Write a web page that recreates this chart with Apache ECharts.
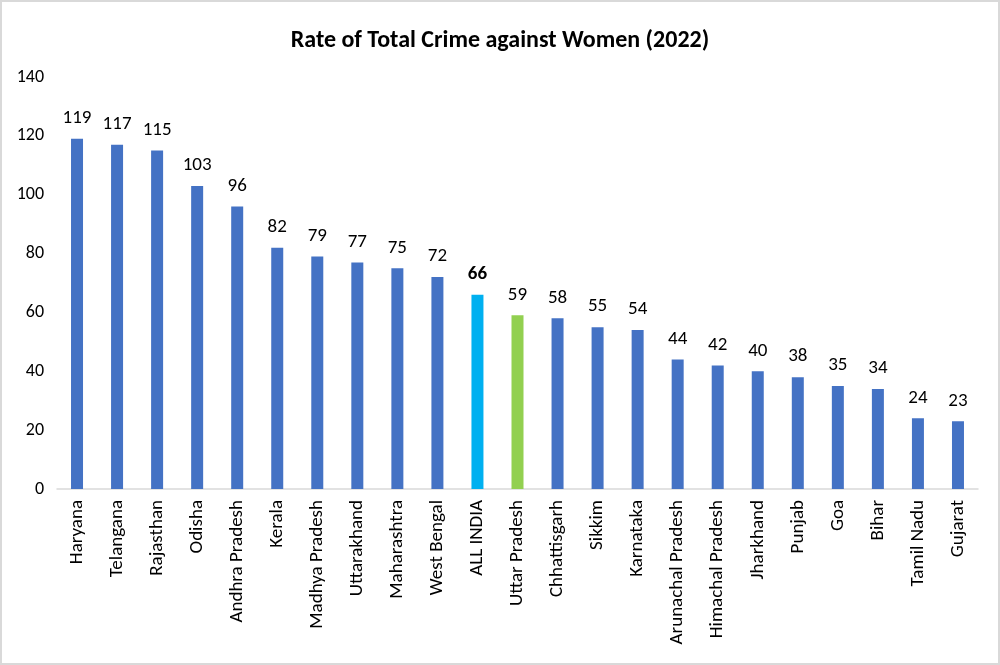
<!DOCTYPE html>
<html>
<head>
<meta charset="utf-8">
<script src="https://cdn.jsdelivr.net/npm/echarts@6/dist/echarts.min.js"></script>
<style>
html,body{margin:0;padding:0;background:#fff;}
#wrap{position:absolute;left:0;top:0;width:996px;height:661px;border:2px solid #d9d9d9;}
#chart{width:996px;height:661px;}
</style>
</head>
<body>
<div id="wrap"><div id="chart"></div></div>
<script>
const categories = ["Haryana","Telangana","Rajasthan","Odisha","Andhra Pradesh","Kerala","Madhya Pradesh","Uttarakhand","Maharashtra","West Bengal","ALL INDIA","Uttar Pradesh","Chhattisgarh","Sikkim","Karnataka","Arunachal Pradesh","Himachal Pradesh","Jharkhand","Punjab","Goa","Bihar","Tamil Nadu","Gujarat"];
const values = [119,117,115,103,96,82,79,77,75,72,66,59,58,55,54,44,42,40,38,35,34,24,23];
const yTicks = {min:0, max:140, interval:20};
const defaultColor = "#4472C4";
const specialColors = {"ALL INDIA":"#00B0F0","Uttar Pradesh":"#92D050"};
const font = 'Carlito, "Open Sans", "Noto Sans", sans-serif';

const data = values.map((v,i)=>{
  const c = categories[i];
  const item = {value:v, itemStyle:{color: specialColors[c] || defaultColor}};
  if (c === "ALL INDIA") item.label = {fontWeight:"bold"};
  return item;
});

const chart = echarts.init(document.getElementById('chart'), null, {renderer:'canvas'});
chart.setOption({
  animation:false,
  title:{text:"Rate of Total Crime against Women (2022)", left:'center', top:22,
    textStyle:{fontFamily:font, fontSize:24, fontWeight:'bold', color:'#000'}},
  grid:{left:55, right:20, top:75, bottom:174, containLabel:false},
  xAxis:{type:'category', data:categories,
    axisLine:{show:true, lineStyle:{color:'#d9d9d9', width:1.5}},
    axisTick:{show:false},
    axisLabel:{rotate:90, interval:0, fontFamily:font, fontSize:19, color:'#000', margin:11}},
  yAxis:{type:'value', min:yTicks.min, max:yTicks.max, interval:yTicks.interval,
    axisLine:{show:false}, axisTick:{show:false}, splitLine:{show:false},
    axisLabel:{fontFamily:font, fontSize:18, color:'#000', margin:13}},
  series:[{type:'bar', data:data, barWidth:12,
    label:{show:true, position:'top', distance:11, fontFamily:font, fontSize:19, color:'#000'}}]
});
</script>
</body>
</html>
